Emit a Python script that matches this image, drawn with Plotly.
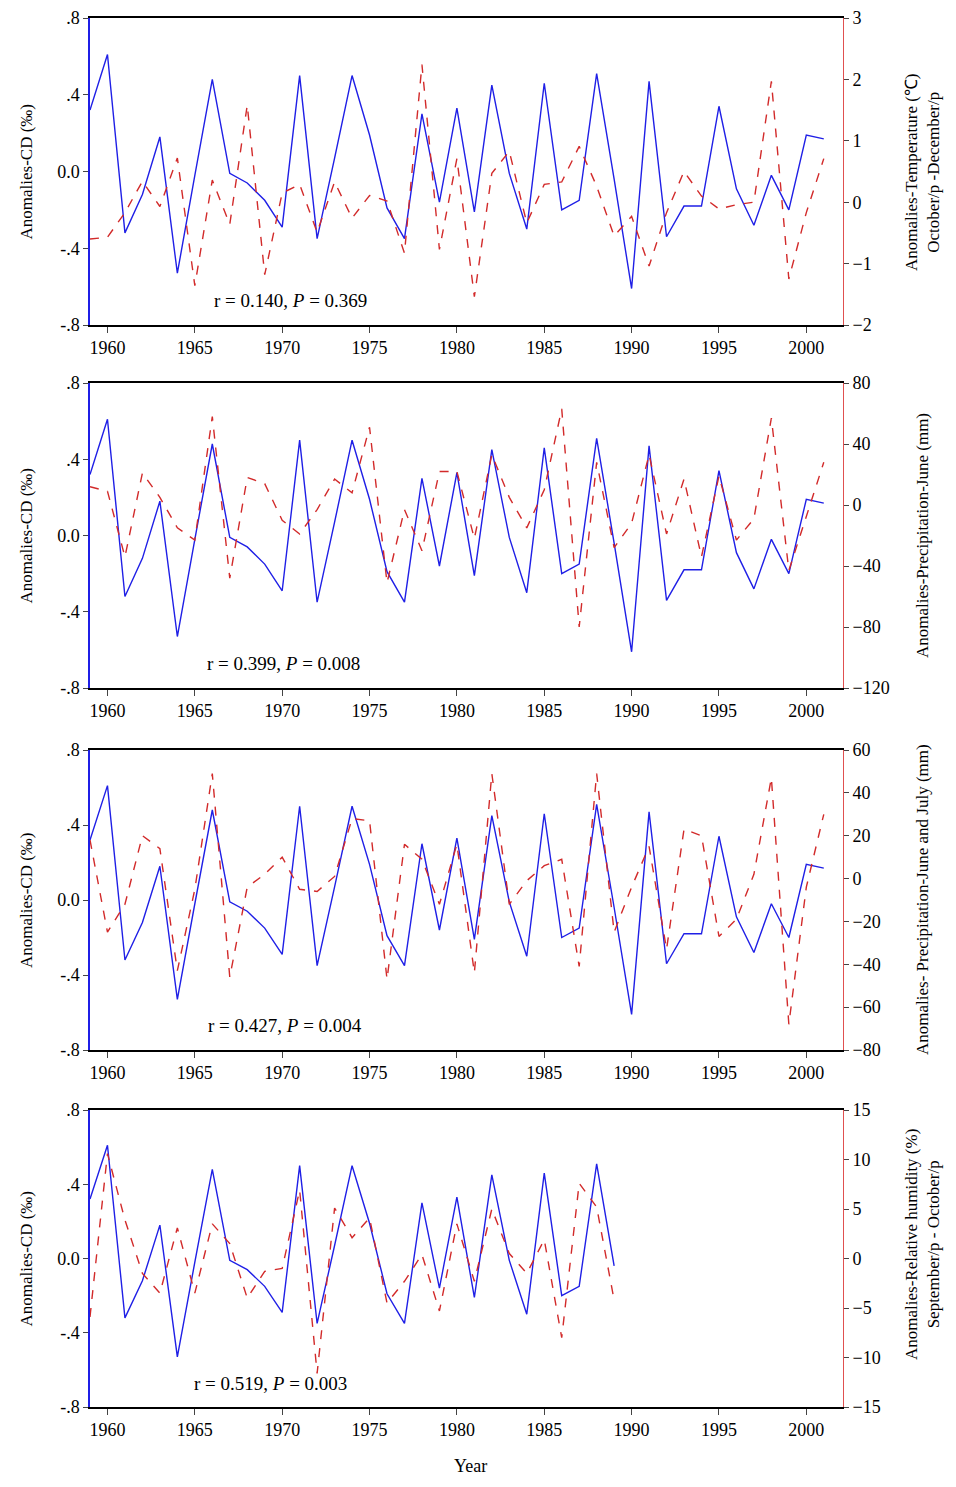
import plotly.graph_objects as go

years = list(range(1959, 2002))
cd = [0.32, 0.61, -0.32, -0.12, 0.18, -0.53, -0.02, 0.48, -0.01, -0.06, -0.15, -0.29, 0.50, -0.35, 0.07,
      0.50, 0.19, -0.19, -0.35, 0.30, -0.16, 0.33, -0.21, 0.45, -0.01, -0.30, 0.46, -0.20, -0.15, 0.51,
      -0.04, -0.61, 0.47, -0.34, -0.18, -0.18, 0.34, -0.09, -0.28, -0.02, -0.20, 0.19, 0.17]
temp = [-0.60, -0.57, -0.17, 0.34, -0.07, 0.72, -1.36, 0.36, -0.36, 1.58, -1.18, 0.15, 0.29, -0.49, 0.33,
        -0.26, 0.11, 0.02, -0.83, 2.24, -0.77, 0.71, -1.54, 0.47, 0.83, -0.34, 0.29, 0.33, 0.91, 0.26,
        -0.55, -0.23, -1.04, -0.17, 0.50, 0.10, -0.11, -0.04, 0.00, 1.97, -1.25, -0.17, 0.71]
prec_jun = [12, 9, -34, 21, 5, -15, -23, 58, -48, 18, 14, -10, -19, -3, 17, 8, 51, -51, -3, -30, 22, 22,
            -22, 33, 5, -15, 10, 63, -80, 28, -28, -12, 33, -19, 17, -34, 19, -23, -9, 57, -43, -8, 28]
prec_jj = [18, -25, -12, 20, 14, -43, -5, 49, -46, -4, 2, 10, -5, -6, 1, 28, 27, -47, 16, 9, -12, 16,
           -44, 49, -12, -1, 6, 9, -41, 49, -25, -4, 15, -33, 23, 20, -27, -19, 2, 47, -68, -4, 30]
rh_years = list(range(1959, 1990))
rh = [-5.9, 10.6, 3.9, -1.5, -3.5, 3.1, -3.5, 3.5, 1.5, -4.0, -1.3, -1.0, 6.9, -11.6, 5.1, 2.1, 4.1,
      -4.5, -2.3, 0.4, -5.3, 3.5, -2.3, 5.0, 0.5, -1.5, 1.9, -8.0, 7.6, 5.2, -4.2]

left_ticks = [0.8, 0.4, 0.0, -0.4, -0.8]
left_labels = [".8", ".4", "0.0", "-.4", "-.8"]
xticks = [1960, 1965, 1970, 1975, 1980, 1985, 1990, 1995, 2000]

OFF = 8  # page body margin
W, H = 956 - 2 * OFF, 1487 - 2 * OFF
def px(x):
    return (x - OFF) / W
def py(y):
    return 1 - (y - OFF) / H
def dom(top_px, bot_px):
    return [py(bot_px), py(top_px)]

panels = [
    dict(cdx=years, cdy=cd, rx=years, ry=temp, rr=[-2, 3], rt=[3, 2, 1, 0, -1, -2],
         title="Anomalies-Temperature (℃)<br>October/p -December/p", txt="r = 0.140, <i>P</i> = 0.369",
         dom=dom(18, 325), tx=290, tmid=172),
    dict(cdx=years, cdy=cd, rx=years, ry=prec_jun, rr=[-120, 80], rt=[80, 40, 0, -40, -80, -120],
         title="Anomalies-Precipitation-June (mm)", txt="r = 0.399, <i>P</i> = 0.008",
         dom=dom(383, 688), tx=283, tmid=536),
    dict(cdx=years, cdy=cd, rx=years, ry=prec_jj, rr=[-80, 60], rt=[60, 40, 20, 0, -20, -40, -60, -80],
         title="Anomalies- Precipitation-June and July (mm)", txt="r = 0.427, <i>P</i> = 0.004",
         dom=dom(750, 1050), tx=285, tmid=900),
    dict(cdx=rh_years, cdy=cd[:31], rx=rh_years, ry=rh, rr=[-15, 15], rt=[15, 10, 5, 0, -5, -10, -15],
         title="Anomalies-Relative humidity (%)<br>September/p - October/p", txt="r = 0.519, <i>P</i> = 0.003",
         dom=dom(1110, 1407), tx=270, tmid=1245),
]

font = dict(family="Liberation Serif", size=18, color="black")
tfont = dict(family="Liberation Serif", size=17, color="black")
fig = go.Figure()
layout = dict(width=W, height=H, margin=dict(l=0, r=0, t=0, b=0), showlegend=False,
              plot_bgcolor="white", paper_bgcolor="white", font=font)
annotations = []
for i, p in enumerate(panels):
    k = i + 1
    xa = f"x{k}" if k > 1 else "x"
    yl = 2 * i + 1
    yr = 2 * i + 2
    yla = f"y{yl}" if yl > 1 else "y"
    yra = f"y{yr}"
    fig.add_trace(go.Scatter(x=p["rx"], y=p["ry"], mode="lines", xaxis=xa, yaxis=yra,
                             line=dict(color="#d22a2a", width=1.4, dash="dash")))
    fig.add_trace(go.Scatter(x=p["cdx"], y=p["cdy"], mode="lines", xaxis=xa, yaxis=yla,
                             line=dict(color="#1f1fe6", width=1.4)))
    xkey = f"xaxis{k}" if k > 1 else "xaxis"
    layout[xkey] = dict(domain=[px(90), px(843)], range=[1959, 2002.1], anchor=yla, automargin=False,
                        tickvals=xticks, ticks="outside", ticklen=6, showline=True, linecolor="black",
                        linewidth=1.5, mirror=True, showgrid=False, zeroline=False, tickfont=font)
    layout[f"yaxis{yl}" if yl > 1 else "yaxis"] = dict(
        domain=p["dom"], range=[-0.8, 0.8], anchor=xa, tickvals=left_ticks, ticktext=left_labels,
        ticks="outside", ticklen=5, showline=True, linecolor="#1f1fe6", linewidth=1.5, automargin=False,
        showgrid=False, zeroline=False, tickfont=font)
    layout[f"yaxis{yr}"] = dict(
        domain=p["dom"], range=p["rr"], anchor=xa, overlaying=yla, side="right", tickvals=p["rt"],
        ticks="outside", ticklen=5, showline=True, linecolor="#e05050", linewidth=1, automargin=False,
        showgrid=False, zeroline=False, tickfont=font)
    ymid = (p["dom"][0] + p["dom"][1]) / 2
    annotations.append(dict(text="Anomalies-CD (‰)", x=px(26), y=ymid, xref="paper", yref="paper",
                            xanchor="center", yanchor="middle",
                            textangle=-90, showarrow=False, font=tfont))
    annotations.append(dict(text=p["title"], x=px(922), y=py(p["tmid"]), xref="paper", yref="paper",
                            xanchor="center", yanchor="middle",
                            textangle=-90, showarrow=False, font=tfont))
    annotations.append(dict(text=p["txt"], x=px(p["tx"]), y=p["dom"][0] + 24 / H, xref="paper",
                            yref="paper", xanchor="center", yanchor="middle", showarrow=False,
                            font=dict(family="Liberation Serif", size=19, color="black")))
annotations.append(dict(text="Year", x=px(470), y=py(1466), xref="paper", yref="paper",
                        xanchor="center", yanchor="middle", showarrow=False, font=font))
layout["annotations"] = annotations
fig.update_layout(**layout)
fig.write_html("out.html")
